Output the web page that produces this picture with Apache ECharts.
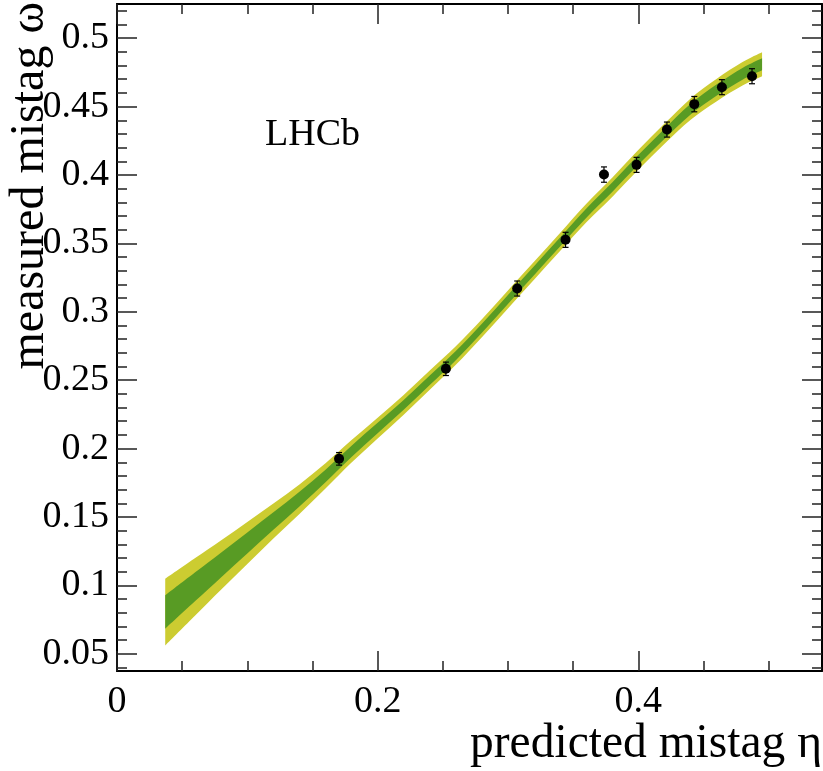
<!DOCTYPE html>
<html>
<head>
<meta charset="utf-8">
<script src="https://cdn.jsdelivr.net/npm/echarts@6/dist/echarts.min.js"></script>
<style>
  html, body { margin: 0; padding: 0; background: #ffffff; }
  #chart { width: 823px; height: 771px; }
</style>
</head>
<body>
<div id="chart"></div>
<script>
// Calibration points: predicted mistag bins and measured mistag with errors
const etaBins       = [0.1704, 0.2524, 0.3071, 0.3442, 0.3737, 0.3987, 0.4220, 0.4430, 0.4642, 0.4873];
const omegaMeasured = [0.1925, 0.2583, 0.3170, 0.3526, 0.4003, 0.4074, 0.4332, 0.4518, 0.4642, 0.4722];
const omegaError    = [0.0046, 0.0049, 0.0055, 0.0055, 0.0056, 0.0055, 0.0055, 0.0056, 0.0055, 0.0055];

// Calibration curve: central value and one-sigma width
const fitEta    = [0.037, 0.06, 0.08, 0.10, 0.12, 0.14, 0.16, 0.18, 0.20, 0.22, 0.24, 0.26,
                   0.28, 0.30, 0.32, 0.34, 0.36, 0.38, 0.40, 0.42, 0.44, 0.46, 0.48, 0.495];
const fitCentre = [0.0805, 0.099, 0.115, 0.131, 0.147, 0.163, 0.180, 0.198, 0.215, 0.232, 0.250, 0.268,
                   0.288, 0.309, 0.330, 0.351, 0.372, 0.391, 0.411, 0.430, 0.448, 0.462, 0.474, 0.481];
const fitSigma  = [0.0122, 0.0105, 0.0090, 0.0077, 0.0064, 0.0054, 0.0046, 0.0041, 0.0038, 0.0036, 0.0035, 0.0034,
                   0.0033, 0.0033, 0.0033, 0.0033, 0.0034, 0.0035, 0.0036, 0.0037, 0.0039, 0.0041, 0.0043, 0.0044];

// Axis ticks
const xTickLabels = ['0', '0.2', '0.4'];
const yTickLabels = ['0.05', '0.1', '0.15', '0.2', '0.25', '0.3', '0.35', '0.4', '0.45', '0.5'];

const X_MIN = 0, X_MAX = 0.541;
const Y_MIN = 0.0374, Y_MAX = 0.525;

const xMajor = xTickLabels.map(Number);
const yMajor = yTickLabels.map(Number);
const xMinor = [];
for (let i = 0; i <= 10; i++) xMinor.push(+(i * 0.05).toFixed(2));
const yMinor = [];
for (let i = 4; i <= 52; i++) yMinor.push(+(i * 0.01).toFixed(2));

const SERIF = 'Liberation Serif, Times New Roman, serif';
const FRAME = { color: '#000', width: 2 };
const TICK = { color: '#222', width: 1.5 };

function axisPair(kind, position, major, minor, labels, min, max) {
  const base = { type: 'value', min: min, max: max, position: position, z: 5,
                 splitLine: { show: false } };
  const main = Object.assign({}, base, {
    axisLine: { show: true, onZero: false, lineStyle: FRAME },
    axisTick: { show: true, inside: true, length: 20, customValues: major, lineStyle: TICK },
    axisLabel: labels ? {
      show: true, customValues: major,
      fontFamily: SERIF, fontSize: 38, color: '#000',
      margin: kind === 'x' ? 12 : 8,
      formatter: function (v) {
        const i = major.findIndex(m => Math.abs(m - v) < 1e-9);
        return i >= 0 ? labels[i] : '';
      }
    } : { show: false }
  });
  const sub = Object.assign({}, base, {
    axisLine: { show: false, onZero: false },
    axisTick: { show: true, inside: true, length: 10, customValues: minor, lineStyle: TICK },
    axisLabel: { show: false }
  });
  return [main, sub];
}

const xAxes = axisPair('x', 'bottom', xMajor, xMinor, xTickLabels, X_MIN, X_MAX)
  .concat(axisPair('x', 'top', xMajor, xMinor, null, X_MIN, X_MAX));
const yAxes = axisPair('y', 'left', yMajor, yMinor, yTickLabels, Y_MIN, Y_MAX)
  .concat(axisPair('y', 'right', yMajor, yMinor, null, Y_MIN, Y_MAX));

const YELLOW = '#cccc31';
const GREEN = '#589b24';

// Smooth open curve through pixel points (Catmull-Rom as cubic Béziers)
function curveCommands(pts) {
  let d = '';
  for (let i = 0; i < pts.length - 1; i++) {
    const p0 = pts[Math.max(i - 1, 0)], p1 = pts[i], p2 = pts[i + 1];
    const p3 = pts[Math.min(i + 2, pts.length - 1)];
    const c1 = [p1[0] + (p2[0] - p0[0]) / 6, p1[1] + (p2[1] - p0[1]) / 6];
    const c2 = [p2[0] - (p3[0] - p1[0]) / 6, p2[1] - (p3[1] - p1[1]) / 6];
    d += ' C' + c1[0].toFixed(2) + ' ' + c1[1].toFixed(2) + ' ' +
         c2[0].toFixed(2) + ' ' + c2[1].toFixed(2) + ' ' +
         p2[0].toFixed(2) + ' ' + p2[1].toFixed(2);
  }
  return d;
}

// Closed band between centre - k*sigma and centre + k*sigma
function bandPath(api, n, k) {
  const upper = [], lower = [];
  for (let j = 0; j < n; j++) {
    const x = api.value(0, j), c = api.value(1, j), s = api.value(2, j);
    upper.push(api.coord([x, c + k * s]));
    lower.push(api.coord([x, c - k * s]));
  }
  lower.reverse();
  return 'M' + upper[0][0].toFixed(2) + ' ' + upper[0][1].toFixed(2) + curveCommands(upper) +
         ' L' + lower[0][0].toFixed(2) + ' ' + lower[0][1].toFixed(2) + curveCommands(lower) + ' Z';
}

const chart = echarts.init(document.getElementById('chart'), null, { renderer: 'canvas' });
chart.setOption({
  animation: false,
  backgroundColor: '#ffffff',
  grid: { left: 117, right: 1, top: 4, bottom: 100, containLabel: false },
  xAxis: xAxes,
  yAxis: yAxes,
  series: [
    {
      name: 'calibration', type: 'custom', z: 1, silent: true,
      data: fitEta.map((x, i) => [x, fitCentre[i], fitSigma[i]]),
      encode: { x: 0, y: 1 },
      renderItem: function (params, api) {
        if (params.dataIndexInside !== 0) return null;
        const n = params.dataInsideLength;
        return {
          type: 'group',
          children: [
            { type: 'path', shape: { pathData: bandPath(api, n, 2) }, style: { fill: YELLOW } },
            { type: 'path', shape: { pathData: bandPath(api, n, 1) }, style: { fill: GREEN } }
          ]
        };
      }
    },
    {
      name: 'errors', type: 'custom', z: 3,
      data: etaBins.map((x, i) => [x, omegaMeasured[i], omegaError[i]]),
      encode: { x: 0, y: 1 },
      renderItem: function (params, api) {
        const x = api.value(0), y = api.value(1), e = api.value(2);
        const hi = api.coord([x, y + e]);
        const lo = api.coord([x, y - e]);
        const s = { stroke: '#000', lineWidth: 1.2 };
        return {
          type: 'group',
          children: [
            { type: 'line', shape: { x1: hi[0], y1: hi[1], x2: lo[0], y2: lo[1] }, style: s },
            { type: 'line', shape: { x1: hi[0] - 3, y1: hi[1], x2: hi[0] + 3, y2: hi[1] }, style: s },
            { type: 'line', shape: { x1: lo[0] - 3, y1: lo[1], x2: lo[0] + 3, y2: lo[1] }, style: s }
          ]
        };
      }
    },
    {
      name: 'data', type: 'scatter', z: 4,
      data: etaBins.map((x, i) => [x, omegaMeasured[i]]),
      symbol: 'circle', symbolSize: 10,
      itemStyle: { color: '#000', opacity: 1 }
    }
  ],
  graphic: [
    {
      type: 'text', left: 265, top: 116, z: 10,
      style: { text: 'LHCb', font: '38px ' + SERIF, fill: '#000' }
    },
    {
      type: 'text', x: 822, y: 769, z: 10,
      style: { text: 'predicted mistag η', font: '47.5px ' + SERIF, fill: '#000',
               align: 'right', verticalAlign: 'bottom' }
    },
    {
      type: 'text', x: 54, y: 2, rotation: Math.PI / 2, z: 10,
      style: { text: 'measured mistag ω', font: '48px ' + SERIF, fill: '#000',
               align: 'right', verticalAlign: 'bottom' }
    }
  ]
});
</script>
</body>
</html>
